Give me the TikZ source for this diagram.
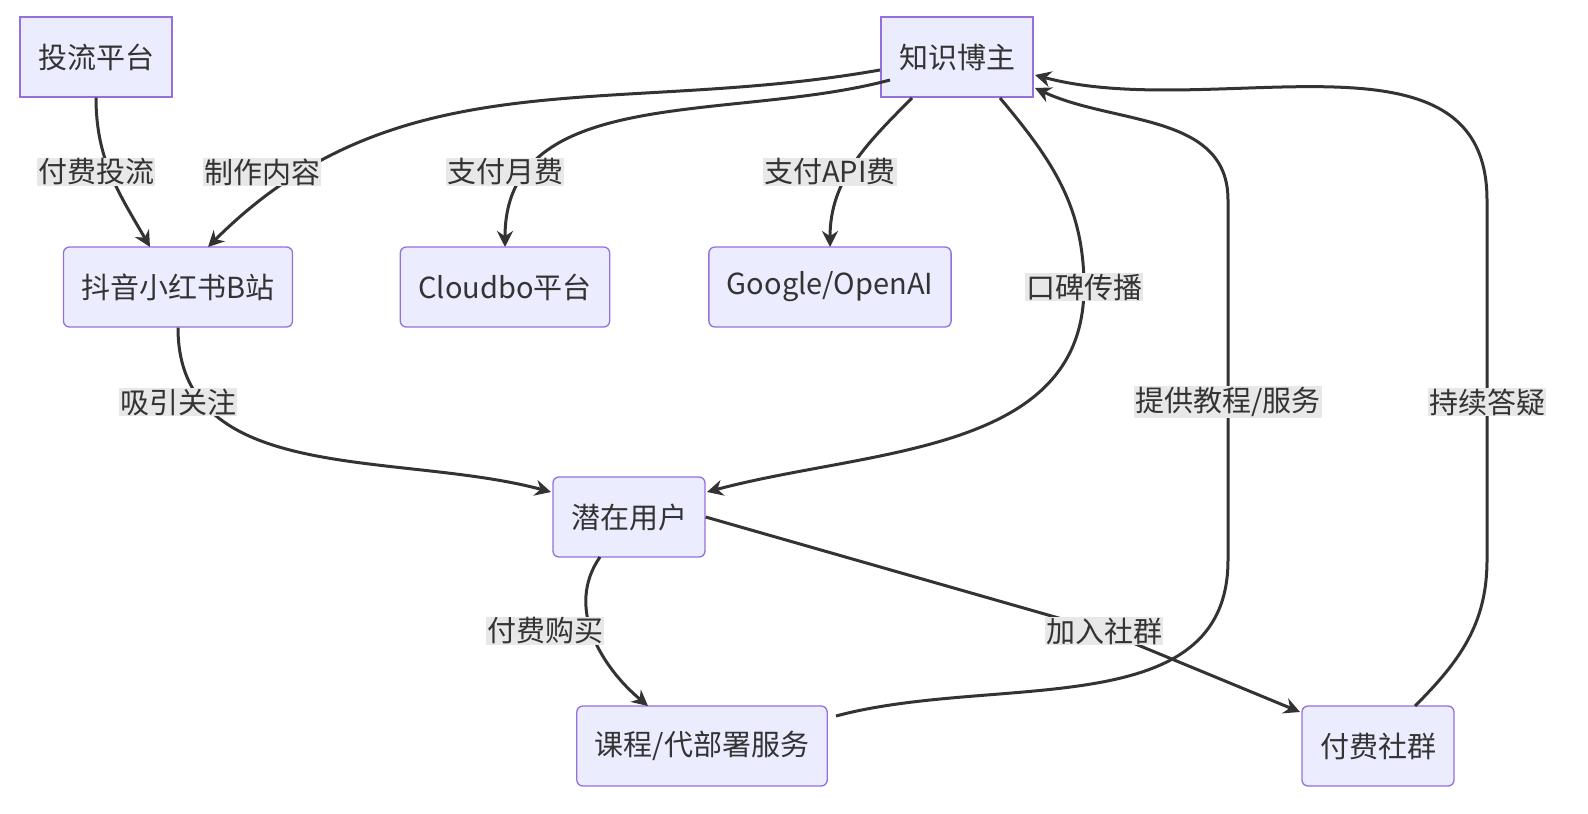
\documentclass[tikz,border=0pt]{standalone}
\usepackage{fontspec}
\setmainfont{Noto Sans CJK SC}
\usetikzlibrary{positioning, arrows.meta}
\definecolor{boxfill}{HTML}{ECECFF}
\definecolor{boxline}{HTML}{9370DB}
\definecolor{edgecol}{HTML}{333333}
\definecolor{lblbg}{HTML}{E8E8E8}

\begin{document}
\begin{tikzpicture}[x=1pt,y=-1pt,
    box/.style={draw=boxline, fill=boxfill, line width=1.3pt, minimum height=80pt,
                inner xsep=18pt, font=\fontsize{29}{34}\selectfont, text=edgecol},
    rbox/.style={box, rounded corners=6pt},
    lbl/.style={fill=lblbg, inner sep=1pt, font=\fontsize{29}{34}\selectfont, text=edgecol},
    flow/.style={draw=edgecol, line width=3pt, -{Stealth[length=16pt,width=16pt]}}]

   \useasboundingbox (0,0) rectangle (1588,814);

   \node[box]  (ads)    at (96,57)   {投流平台};
   \node[box]  (author) at (957,57)  {知识博主};
   \node[rbox] (media)  at (178,287) {抖音小红书B站};
   \node[rbox] (cloud)  at (505,287) {Cloudbo平台};
   \node[rbox] (api)    at (830,287) {Google/OpenAI};
   \node[rbox] (user)   at (629,517) {潜在用户};
   \node[rbox] (course) at (702,746) {课程/代部署服务};
   \node[rbox] (group)  at (1378,746) {付费社群};

   \draw[flow] (ads.south) to[out=-90,in=120] (150,247);
   \draw[flow] (880,70) to[out=190,in=45] (208,247);
   \draw[flow] (890,80) to[out=195,in=90] (505,247);
   \draw[flow] (912,98) to[out=225,in=90] (830,247);
   \draw[flow] (1000,98) to[out=-50,in=90] (1084,287) to[out=-90,in=15] (707,492);
   \draw[flow] (media.south) to[out=-90,in=165] (551,492);
   \draw[flow] (600,557) to[out=235,in=140] (648,706);
   \draw[flow] (user.east) -- (1104,631) -- (1300,712);
   \draw[flow] (836,716) to[out=15,in=-90] (1228,560) -- (1228,200) to[out=90,in=-25] (1035,88);
   \draw[flow] (1415,706) to[out=45,in=-90] (1487,560) -- (1487,200) to[out=90,in=-15] (1035,75);

   \node[lbl] (l1)  at (96,172)   {付费投流};
   \node[lbl] (l2)  at (262,172)  {制作内容};
   \node[lbl] (l3)  at (505,172)  {支付月费};
   \node[lbl] (l4)  at (830,172)  {支付API费};
   \node[lbl] (l5)  at (1084,287) {口碑传播};
   \node[lbl] (l6)  at (178,402)  {吸引关注};
   \node[lbl] (l7)  at (545,631)  {付费购买};
   \node[lbl] (l8)  at (1104,631) {加入社群};
   \node[lbl] (l9)  at (1228,402) {提供教程/服务};
   \node[lbl] (l10) at (1487,402) {持续答疑};

\end{tikzpicture}
\end{document}
